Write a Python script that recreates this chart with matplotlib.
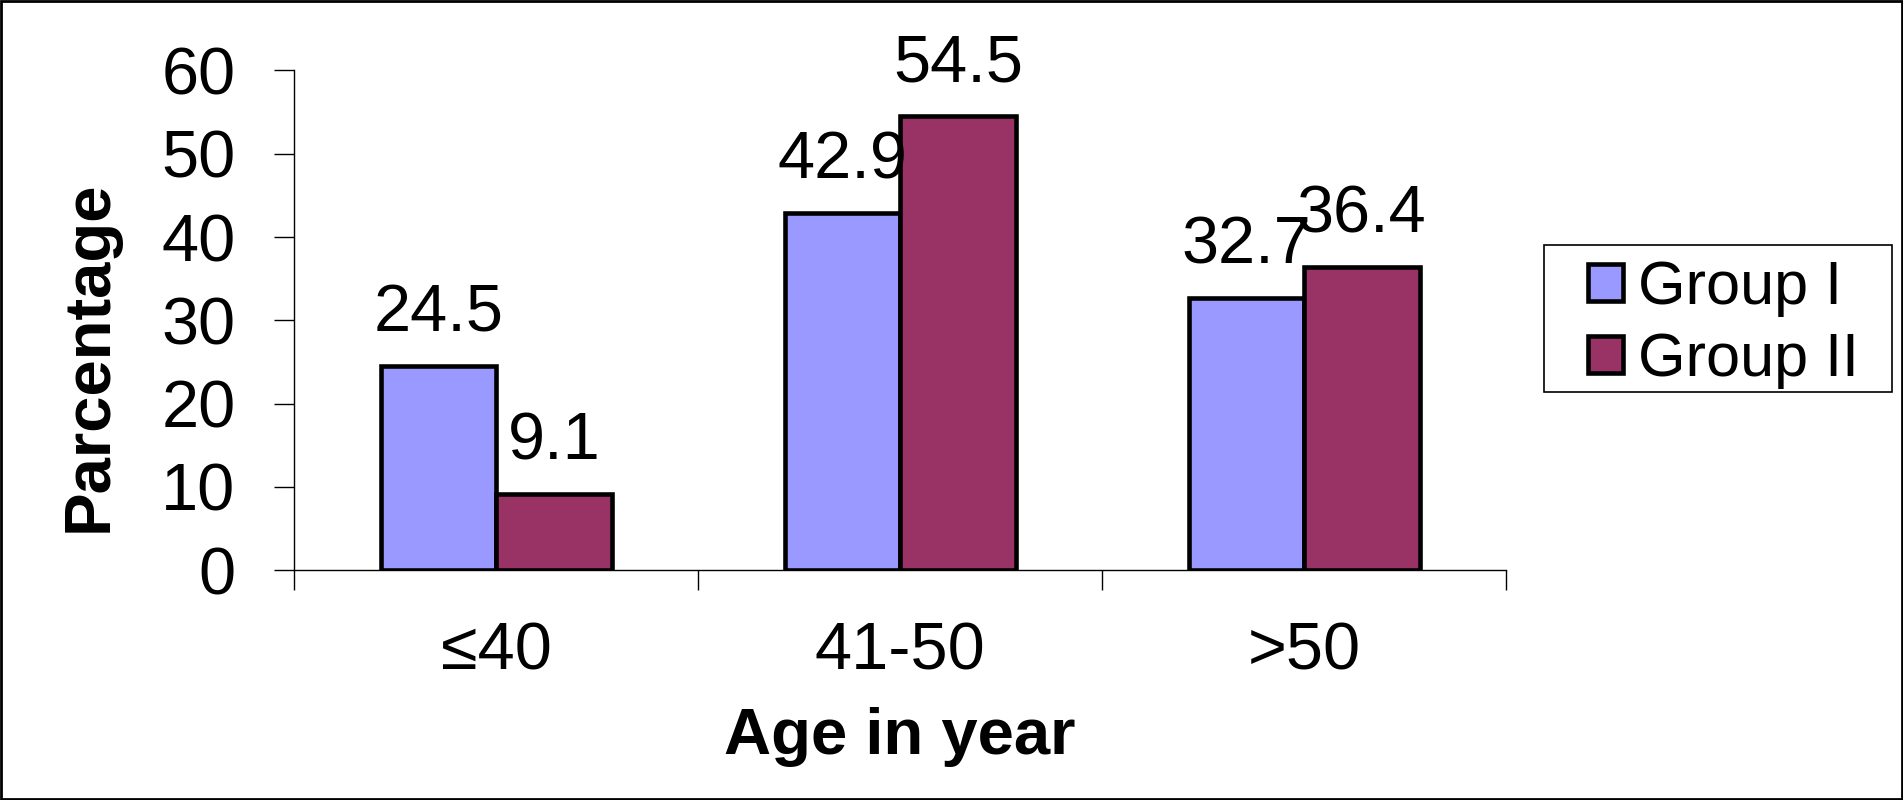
import matplotlib
matplotlib.use("Agg")
import numpy as np
import matplotlib.pyplot as plt
from matplotlib.patches import Rectangle

plt.rcParams['font.family'] = ['Liberation Sans', 'DejaVu Sans']

# data
categories = ['≤40', '41-50', '>50']
group1 = [24.5, 42.9, 32.7]
group2 = [9.1, 54.5, 36.4]
series_names = ['Group I', 'Group II']
yticks = [0, 10, 20, 30, 40, 50, 60]

W, H = 1903, 800
fig = plt.figure(figsize=(W / 100, H / 100), dpi=100)
ax = fig.add_axes([294.3 / W, 1 - 570.3 / H, 1211.7 / W, 499.8 / H])

fs = 48
x = np.arange(len(categories))
w = 0.286
b1 = ax.bar(x - w / 2, group1, w, color='#9999FF', edgecolor='black', linewidth=3.3,
            label=series_names[0])
b2 = ax.bar(x + w / 2, group2, w, color='#993366', edgecolor='black', linewidth=3.3,
            label=series_names[1])

for bars, vals in ((b1, group1), (b2, group2)):
    for r, v in zip(bars, vals):
        ax.annotate(f'{v}', (r.get_x() + r.get_width() / 2, v), xytext=(0, 25),
                    textcoords='offset points', ha='center', va='baseline', fontsize=fs)

ax.set_xlim(-0.5, 2.5)
ax.set_ylim(0, 60)
ax.set_yticks(yticks)
ax.set_xticks(x)
ax.set_xticklabels(categories)
ax.set_xticks([-0.5, 0.5, 1.5, 2.5], minor=True)
ax.tick_params(axis='x', which='major', length=0, pad=37, labelsize=fs)
ax.tick_params(axis='x', which='minor', length=14.4, width=1, direction='out')
ax.tick_params(axis='y', length=14.4, width=1, direction='out', pad=28, labelsize=fs)

for s in ['top', 'right']:
    ax.spines[s].set_visible(False)
for s in ['left', 'bottom']:
    ax.spines[s].set_linewidth(1)

ax.set_xlabel('Age in year', fontsize=47, fontweight='bold', labelpad=17)
ax.set_ylabel('Parcentage', fontsize=47, fontweight='bold')
ax.yaxis.label.set_va('baseline')
ax.yaxis.set_label_coords(-0.1546, 0.4278)

# legend without its own frame; frame drawn separately
lfs = 44
leg = ax.legend(loc='upper left', bbox_to_anchor=(1588 / W, 1 - 260 / H),
                bbox_transform=fig.transFigure, fontsize=lfs, frameon=False,
                borderaxespad=0, borderpad=0, handlelength=0.57, handleheight=0.57,
                handletextpad=0.245, labelspacing=0.25)
fig.patches.append(Rectangle((1544 / W, 1 - 392 / H), 348 / W, 147 / H,
                             transform=fig.transFigure, fill=False,
                             edgecolor='black', linewidth=1.2))

fig.patches.append(Rectangle((0.0005, 0.001), 0.999, 0.998, transform=fig.transFigure,
                             fill=False, edgecolor='black', linewidth=2))

fig.savefig('out.png', dpi=100)
